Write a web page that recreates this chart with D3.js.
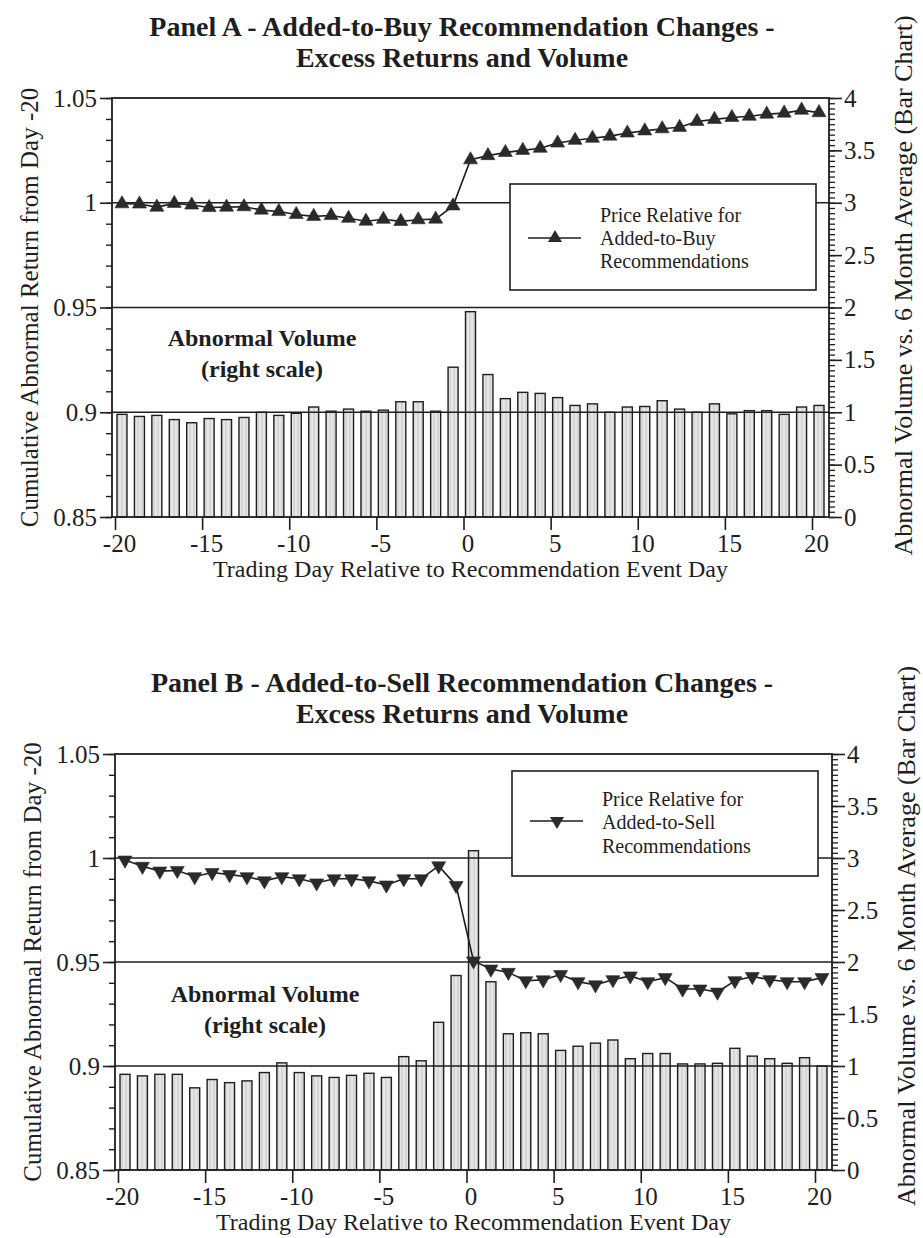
<!DOCTYPE html>
<html><head><meta charset="utf-8">
<script src="https://cdn.jsdelivr.net/npm/d3@7"></script>
<style>
body{margin:0;background:#fff}
svg{display:block}
text{font-family:"Liberation Serif","Times New Roman",serif;fill:#1e1e1e}
</style>
</head><body>
<svg id="chart" width="923" height="1238"></svg>
<script>
// ---------- data ----------
const days = [-20,-19,-18,-17,-16,-15,-14,-13,-12,-11,-10,-9,-8,-7,-6,-5,-4,-3,-2,-1,
               0,1,2,3,4,5,6,7,8,9,10,11,12,13,14,15,16,17,18,19,20];
const xTickValues = [-20,-15,-10,-5,0,5,10,15,20];
const xTickLabels = ["-20","-15","-10","-5","0","5","10","15","20"];
const leftTickValues = [0.85,0.9,0.95,1,1.05];
const leftTickLabels = ["0.85","0.9","0.95","1","1.05"];
const rightTickValues = [0,0.5,1,1.5,2,2.5,3,3.5,4];
const rightTickLabels = ["0","0.5","1","1.5","2","2.5","3","3.5","4"];

// Panel A - Added-to-Buy
const buyPrice = [0.9995,0.9994,0.9979,0.9997,0.9989,0.9977,0.9979,0.9981,0.9965,0.9958,
                  0.9944,0.9935,0.9939,0.9926,0.9912,0.9921,0.9911,0.9919,0.9922,0.9985,
                  1.0205,1.0225,1.0240,1.0250,1.0260,1.0285,1.0298,1.0308,1.0318,1.0333,
                  1.0343,1.0353,1.0360,1.0388,1.0398,1.0407,1.0413,1.0423,1.0428,1.0442,1.0430];
const buyVolume = [0.98,0.96,0.97,0.93,0.90,0.94,0.93,0.95,1.00,0.97,
                   0.99,1.05,1.01,1.03,1.01,1.02,1.10,1.10,1.01,1.43,
                   1.96,1.36,1.13,1.19,1.18,1.14,1.065,1.08,1.00,1.05,
                   1.055,1.11,1.03,1.00,1.08,0.985,1.015,1.015,0.98,1.05,1.065];

// Panel B - Added-to-Sell
const sellPrice = [0.9990,0.9960,0.9937,0.9940,0.9910,0.9930,0.9920,0.9910,0.9890,0.9910,
                   0.9900,0.9880,0.9900,0.9900,0.9890,0.9870,0.9900,0.9900,0.9962,0.9868,
                   0.9505,0.9466,0.9450,0.9410,0.9414,0.9440,0.9405,0.9390,0.9415,0.9433,
                   0.9405,0.9425,0.9370,0.9370,0.9355,0.9410,0.9430,0.9415,0.9405,0.9405,0.9425];
const sellVolume = [0.92,0.905,0.92,0.92,0.79,0.87,0.84,0.857,0.937,1.03,
                    0.937,0.905,0.89,0.91,0.93,0.89,1.09,1.05,1.42,1.87,
                    3.07,1.81,1.31,1.32,1.31,1.15,1.19,1.22,1.25,1.07,
                    1.12,1.12,1.02,1.02,1.026,1.17,1.095,1.07,1.026,1.08,1.00];

const panels = [
  {title1:"Panel A - Added-to-Buy Recommendation Changes -", title2:"Excess Returns and Volume",
   price: buyPrice, volume: buyVolume, marker:"up",
   legend:["Price Relative for","Added-to-Buy","Recommendations"],
   left:112, right:829, top:98, bottom:517, t1:36, t2:67, rOff:-22,
   legBox:[510, 86, 306, 106], legText:[124,147,170], legLine:140},
  {title1:"Panel B - Added-to-Sell Recommendation Changes -", title2:"Excess Returns and Volume",
   price: sellPrice, volume: sellVolume, marker:"down",
   legend:["Price Relative for","Added-to-Sell","Recommendations"],
   left:115, right:832, top:754, bottom:1170, t1:692, t2:723, rOff:-26,
   legBox:[512, 17, 306, 105], legText:[52,75,99], legLine:67}
];

const svg = d3.select("#chart");
const defs = svg.append("defs");
const pat = defs.append("pattern").attr("id","hatch").attr("patternUnits","userSpaceOnUse")
  .attr("width",4).attr("height",4);
pat.append("rect").attr("width",4).attr("height",4).attr("fill","#e6e6e6");
pat.append("line").attr("x1",2).attr("x2",2).attr("y1",0).attr("y2",4)
  .attr("stroke","#bdbdbd").attr("stroke-width",0.8);

const ink = "#1e1e1e";
const markOffset = 7, barW = 10;

panels.forEach(p => {
  const g = svg.append("g");
  const x = d3.scaleLinear().domain([-20,20]).range([p.left+3, p.left+700]);
  const yL = d3.scaleLinear().domain([0.85,1.05]).range([p.bottom,p.top]);
  const yR = d3.scaleLinear().domain([0,4]).range([p.bottom,p.top]);
  const H = p.bottom - p.top;

  // titles
  g.append("text").attr("x",462).attr("y",p.t1).attr("text-anchor","middle")
    .attr("font-weight","bold").attr("font-size",28).text(p.title1);
  g.append("text").attr("x",462).attr("y",p.t2).attr("text-anchor","middle")
    .attr("font-weight","bold").attr("font-size",28).text(p.title2);

  // bars
  g.append("g").selectAll("rect").data(days).join("rect")
    .attr("x", (d)=> x(d)+markOffset-barW/2)
    .attr("y", (d,i)=> yR(p.volume[i]))
    .attr("width", barW)
    .attr("height", (d,i)=> yR(0)-yR(p.volume[i]))
    .attr("fill","url(#hatch)").attr("stroke",ink).attr("stroke-width",1.4);

  // gridlines
  g.append("g").selectAll("line").data([0.9,0.95,1]).join("line")
    .attr("x1",p.left).attr("x2",p.right).attr("y1",d=>yL(d)).attr("y2",d=>yL(d))
    .attr("stroke",ink).attr("stroke-width",1.6);
  // frame
  g.append("rect").attr("x",p.left).attr("y",p.top).attr("width",p.right-p.left).attr("height",H)
    .attr("fill","none").attr("stroke",ink).attr("stroke-width",1.8);

  // left axis
  const axL = g.append("g").attr("transform",`translate(${p.left},0)`)
    .call(d3.axisLeft(yL).tickValues(leftTickValues).tickSize(12).tickPadding(3)
      .tickFormat((d,i)=>leftTickLabels[i]));
  axL.select(".domain").remove();
  axL.selectAll("line").attr("stroke",ink).attr("stroke-width",1.6);
  axL.selectAll("text").attr("font-size",25).attr("font-family","Liberation Serif").attr("fill",ink);
  const minorL = d3.range(0,21).map(k=>0.85+k*0.01);
  g.append("g").attr("transform",`translate(${p.left},0)`)
    .call(d3.axisLeft(yL).tickValues(minorL).tickSize(6).tickFormat(""))
    .call(s=>{s.select(".domain").remove(); s.selectAll("line").attr("stroke",ink).attr("stroke-width",1.4);});

  // right axis
  const axR = g.append("g").attr("transform",`translate(${p.right},0)`)
    .call(d3.axisRight(yR).tickValues(rightTickValues).tickSize(13).tickPadding(2)
      .tickFormat((d,i)=>rightTickLabels[i]));
  axR.select(".domain").remove();
  axR.selectAll("line").attr("stroke",ink).attr("stroke-width",1.6);
  axR.selectAll("text").attr("font-size",25).attr("font-family","Liberation Serif").attr("fill",ink);
  const minorR = d3.range(0,81).map(k=>k*0.05);
  g.append("g").attr("transform",`translate(${p.right},0)`)
    .call(d3.axisRight(yR).tickValues(minorR).tickSize(6).tickFormat(""))
    .call(s=>{s.select(".domain").remove(); s.selectAll("line").attr("stroke",ink).attr("stroke-width",1.3);});

  // bottom axis
  const axB = g.append("g").attr("transform",`translate(0,${p.bottom})`)
    .call(d3.axisBottom(x).tickValues(xTickValues).tickSize(13).tickPadding(4)
      .tickFormat((d,i)=>xTickLabels[i]));
  axB.select(".domain").remove();
  axB.selectAll("line").attr("stroke",ink).attr("stroke-width",1.6);
  axB.selectAll("text").attr("font-size",25).attr("font-family","Liberation Serif").attr("fill",ink)
    .attr("dx",4);

  // price line
  const line = d3.line().x((d)=>x(d)+markOffset).y((d,i)=>yL(p.price[i]));
  g.append("path").datum(days).attr("d",line).attr("fill","none")
    .attr("stroke",ink).attr("stroke-width",1.6);
  const sym = d3.symbol().type(d3.symbolTriangle).size(85);
  const rot = p.marker==="up" ? 0 : 180;
  g.append("g").selectAll("path").data(days).join("path")
    .attr("d", sym)
    .attr("transform",(d,i)=>`translate(${x(d)+markOffset},${yL(p.price[i])}) rotate(${rot})`)
    .attr("fill","#2a2a2a").attr("stroke","#2a2a2a").attr("stroke-width",0.6);

  // legend
  const [lx,ly,lw,lh] = p.legBox;
  g.append("rect").attr("x",lx).attr("y",p.top+ly).attr("width",lw).attr("height",lh)
    .attr("fill","#fff").attr("stroke",ink).attr("stroke-width",1.6);
  g.append("line").attr("x1",lx+18).attr("x2",lx+71).attr("y1",p.top+p.legLine).attr("y2",p.top+p.legLine)
    .attr("stroke",ink).attr("stroke-width",1.6);
  g.append("path").attr("d",sym)
    .attr("transform",`translate(${lx+45},${p.top+p.legLine}) rotate(${rot})`)
    .attr("fill","#2a2a2a");
  p.legend.forEach((t,i)=>{
    g.append("text").attr("x",lx+90).attr("y",p.top+p.legText[i]).attr("font-size",20).text(t);
  });

  // abnormal volume note
  g.append("text").attr("x",p.left+150).attr("y",p.top+248).attr("text-anchor","middle")
    .attr("font-weight","bold").attr("font-size",24).text("Abnormal Volume");
  g.append("text").attr("x",p.left+150).attr("y",p.top+279).attr("text-anchor","middle")
    .attr("font-weight","bold").attr("font-size",24).text("(right scale)");

  // axis titles
  g.append("text").attr("x",(p.left+p.right)/2).attr("y",p.bottom+60).attr("text-anchor","middle")
    .attr("font-size",24).text("Trading Day Relative to Recommendation Event Day");
  const cy = (p.top+p.bottom)/2;
  g.append("text").attr("transform",`translate(${p.left-74},${cy}) rotate(-90)`)
    .attr("text-anchor","middle").attr("font-size",25).text("Cumulative Abnormal Return from Day -20");
  g.append("text").attr("transform",`translate(${p.right+83},${cy+p.rOff}) rotate(-90)`)
    .attr("text-anchor","middle").attr("font-size",26).text("Abnormal Volume vs. 6 Month Average (Bar Chart)");
});
</script>
</body></html>
